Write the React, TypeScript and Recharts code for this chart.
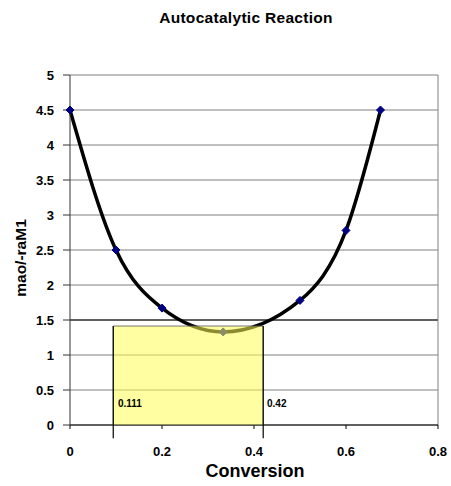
import React from 'react';
import {
  ComposedChart, Line, XAxis, YAxis, CartesianGrid, ReferenceArea, ReferenceLine,
} from 'recharts';

const conversion = [0, 0.1, 0.2, 0.333, 0.5, 0.6, 0.675];
const maoRa = [4.5, 2.5, 1.67, 1.33, 1.78, 2.78, 4.5];
const xTicks = [0, 0.2, 0.4, 0.6, 0.8];
const yTicks = [0, 0.5, 1, 1.5, 2, 2.5, 3, 3.5, 4, 4.5, 5];
const boxX = [0.094, 0.42];
const boxTop = 1.414;
const boxLabels = ['0.111', '0.42'];

const data = conversion.map((x, i) => ({ x, y: maoRa[i] }));

const font = '"Liberation Sans", Arial, sans-serif';

const Diamond = (props: any) => {
  const { cx, cy } = props;
  if (cx == null || cy == null) return null;
  const r = 4;
  return (
    <polygon
      points={`${cx},${cy - r} ${cx + r},${cy} ${cx},${cy + r} ${cx - r},${cy}`}
      fill="#000080"
      stroke="#000080"
    />
  );
};

export default function App() {
  return (
    <div style={{ position: 'absolute', left: 0, top: 0, width: 451, height: 486, background: '#fff', fontFamily: font }}>
      <div style={{ position: 'absolute', left: 126, width: 240, top: 9, textAlign: 'center', fontWeight: 'bold', fontSize: 15.5, letterSpacing: 0.3 }}>
        Autocatalytic Reaction
      </div>
      <ComposedChart width={451} height={486} data={data} margin={{ top: 75, right: 13, left: 0, bottom: 0 }}>
        <CartesianGrid horizontal vertical={false} stroke="#808080" strokeWidth={1} />
        <XAxis
          type="number"
          dataKey="x"
          domain={[0, 0.8]}
          ticks={xTicks}
          height={61}
          stroke="#000"
          tickSize={4}
          tickMargin={18}
          tick={{ fill: '#000', fontSize: 13, fontWeight: 'bold', fontFamily: font }}
        />
        <YAxis
          type="number"
          domain={[0, 5]}
          ticks={yTicks}
          width={70}
          stroke="#333"
          tickSize={7}
          tickMargin={9}
          tick={{ fill: '#000', fontSize: 13, fontWeight: 'bold', fontFamily: font }}
        />
        <ReferenceLine y={1.5} stroke="#000" strokeWidth={1} />
        <ReferenceLine x={0.8} stroke="#808080" strokeWidth={1} />
        <Line
          type="monotone"
          dataKey="y"
          stroke="#000"
          strokeWidth={3.5}
          dot={<Diamond />}
          activeDot={false}
          isAnimationActive={false}
        />
        <ReferenceArea
          x1={boxX[0]}
          x2={boxX[1]}
          y1={0}
          y2={boxTop}
          fill="#FFFF55"
          fillOpacity={0.55}
          stroke="#555"
          strokeWidth={0.8}
          zIndex={600}
        />
        {boxX.map((bx) => (
          <ReferenceLine
            key={bx}
            segment={[{ x: bx, y: -0.19 }, { x: bx, y: boxTop }]}
            stroke="#000"
            strokeWidth={1.2}
            ifOverflow="visible"
            zIndex={650}
          />
        ))}
      </ComposedChart>
      <div style={{ position: 'absolute', left: 155, width: 200, top: 461, textAlign: 'center', fontWeight: 'bold', fontSize: 18 }}>
        Conversion
      </div>
      <div
        style={{
          position: 'absolute', left: 21, top: 258, width: 0, height: 0,
        }}
      >
        <div style={{ position: 'absolute', left: -60, top: -10, width: 120, textAlign: 'center', fontWeight: 'bold', fontSize: 15.5, lineHeight: '20px', transform: 'rotate(-90deg)' }}>
          mao/-raM1
        </div>
      </div>
      <div style={{ position: 'absolute', left: 118, top: 398, fontSize: 10, fontWeight: 'bold' }}>{boxLabels[0]}</div>
      <div style={{ position: 'absolute', left: 267, top: 398, fontSize: 10, fontWeight: 'bold' }}>{boxLabels[1]}</div>
    </div>
  );
}
